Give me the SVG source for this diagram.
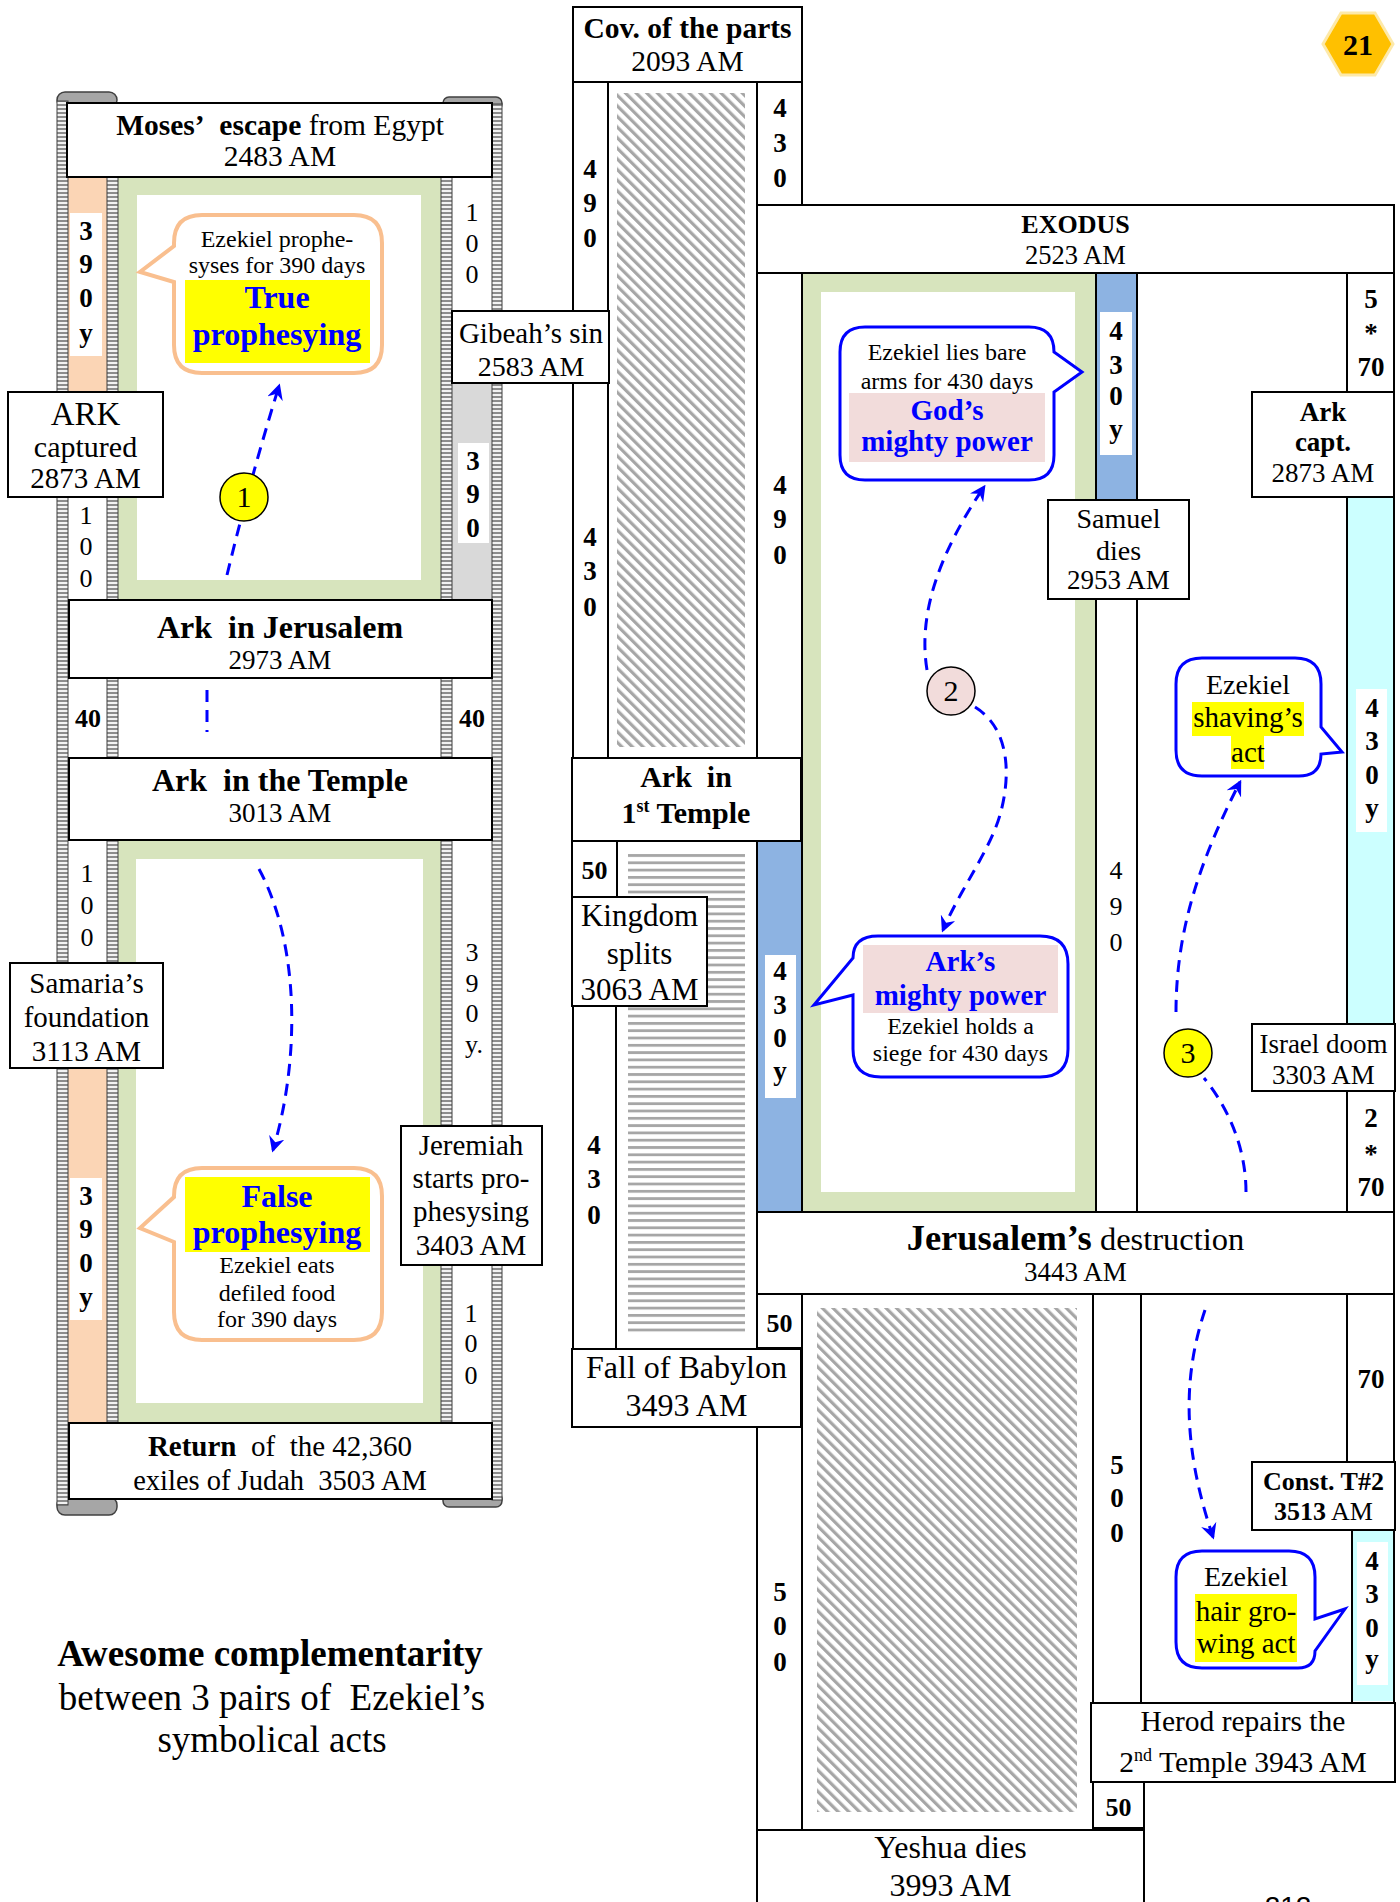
<svg xmlns="http://www.w3.org/2000/svg" width="1400" height="1902" viewBox="0 0 1400 1902">
<defs>
<style>
text{font-family:"Liberation Serif","Times New Roman",serif;text-anchor:middle;fill:#000}
.b{font-weight:bold}
.bl{fill:#0000ff;font-weight:bold}
.f24{font-size:24px}.f26{font-size:26px}.f27{font-size:27px}.f28{font-size:28px}.f29{font-size:29px}.f30{font-size:30px}.f31{font-size:31px}.f32{font-size:32px}.f37{font-size:37px}
.box{fill:#fff;stroke:#000;stroke-width:2}
.ln{stroke:#000;stroke-width:2;fill:none}
.rail{fill:url(#rail);stroke:#404040;stroke-width:1}
.cap{fill:#a6a6a6;stroke:#404040;stroke-width:1.5}
.lbl{fill:#fff}
.pb{fill:#fff;stroke:#f9bf8f;stroke-width:4}
.bb{fill:#fff;stroke:#0000ff;stroke-width:3}
.arr{fill:none;stroke:#0000ff;stroke-width:3;stroke-dasharray:12 8}
.circ{stroke:#000;stroke-width:1.5}
.peach{fill:#fbd5b5}.green{fill:#d7e4bd}.grey{fill:#d9d9d9}.blue{fill:#8db3e2}.cyan{fill:#ccffff}.pink{fill:#f2dcdb}.yel{fill:#ffff00}
</style>
<pattern id="rail" patternUnits="userSpaceOnUse" width="6" height="4"><rect width="6" height="4" fill="#f2f2f2"/><rect width="6" height="2" fill="#8c8c8c"/></pattern>
<pattern id="hatch" patternUnits="userSpaceOnUse" width="7.5" height="7.5" patternTransform="rotate(-45)"><rect width="7.5" height="7.5" fill="#fff"/><rect width="3.2" height="7.5" fill="#a6a6a6"/></pattern>
<pattern id="hstripe" patternUnits="userSpaceOnUse" width="10" height="7.3"><rect width="10" height="7.3" fill="#fff"/><rect width="10" height="2.8" fill="#a6a6a6"/></pattern>
<marker id="ah" viewBox="0 0 12 12" refX="10" refY="6" markerWidth="16" markerHeight="16" markerUnits="userSpaceOnUse" orient="auto"><path d="M0,0 L12,6 L0,12 L4,6 Z" fill="#0000ff"/></marker>
</defs>
<rect width="1400" height="1902" fill="#fff"/>

<g id="backgrounds">
<rect class="peach" x="67" y="177" width="40" height="215"/>
<rect class="lbl" x="70" y="213" width="32" height="143"/>
<rect class="green" x="117" y="177" width="324" height="423"/>
<rect class="lbl" x="137" y="195" width="284" height="385"/>
<rect class="grey" x="452" y="383" width="40" height="217"/>
<rect class="lbl" x="458" y="443" width="31" height="100"/>
<rect class="green" x="117" y="840" width="324" height="583"/>
<rect class="lbl" x="136" y="859" width="287" height="544"/>
<rect class="peach" x="67" y="1068" width="40" height="355"/>
<rect class="lbl" x="70" y="1178" width="32" height="142"/>
<rect x="617" y="93" width="128" height="654" fill="url(#hatch)"/>
<rect x="628" y="852" width="117" height="483" fill="url(#hstripe)"/>
<rect class="blue" x="757" y="841" width="44" height="371"/>
<rect class="lbl" x="765" y="955" width="31" height="143"/>
<rect class="green" x="802" y="273" width="294" height="939"/>
<rect class="lbl" x="821" y="292" width="254" height="900"/>
<rect class="blue" x="1096" y="273" width="40" height="226"/>
<rect class="lbl" x="1100" y="312" width="32" height="143"/>
<rect class="cyan" x="1347" y="497" width="47" height="527"/>
<rect class="lbl" x="1356" y="689" width="31" height="143"/>
<rect x="817" y="1308" width="260" height="504" fill="url(#hatch)"/>
<rect class="cyan" x="1352" y="1530" width="42" height="171"/>
<rect class="lbl" x="1357" y="1542" width="31" height="143"/>
</g>

<g id="rails">
<rect class="cap" x="57" y="92" width="60" height="16" rx="8"/>
<rect class="cap" x="443" y="97" width="59" height="13" rx="6"/>
<rect class="cap" x="57" y="1497" width="60" height="18" rx="8"/>
<rect class="cap" x="443" y="1492" width="59" height="15" rx="6"/>
<rect class="rail" x="57" y="101" width="11" height="1404"/>
<rect class="rail" x="107" y="177" width="11" height="1246"/>
<rect class="rail" x="441" y="177" width="11" height="1246"/>
<rect class="rail" x="492" y="104" width="10" height="1396"/>
</g>

<g id="lines">
<path class="ln" d="M573,82 V1349 M608,82 V758 M757,82 V1830 M802,82 V205 M802,273 V1212 M802,1294 V1830 M616,897 V1349 M1096,273 V1212 M1137,273 V1212 M1347,273 V1212 M1394,205 V1782 M1093,1294 V1830 M1141,1294 V1702 M1347,1294 V1462 M1352,1530 V1702"/>
</g>

<g id="moses"><rect class="box" x="67" y="103" width="425" height="74"/><text font-size="29.5" x="280" y="135"><tspan class="b">Moses’&#160; escape</tspan> from Egypt</text><text font-size="29.5" x="280" y="166">2483 AM</text></g>
<g id="col-390-a"><text class="b f27" x="86" y="240">3</text><text class="b f27" x="86" y="273">9</text><text class="b f27" x="86" y="307">0</text><text class="b f27" x="86" y="342">y</text></g>
<g id="col-100-a"><text class="f26" x="472" y="221">1</text><text class="f26" x="472" y="252">0</text><text class="f26" x="472" y="283">0</text></g>
<g id="gibeah"><rect class="box" x="452" y="311" width="157" height="72"/><text class="f29" x="531" y="343">Gibeah’s sin</text><text class="f28" x="531" y="376">2583 AM</text></g>
<g id="col-390-b"><text class="b f27" x="473" y="470">3</text><text class="b f27" x="473" y="503">9</text><text class="b f27" x="473" y="537">0</text></g>
<g id="ark-captured"><rect class="box" x="8" y="392" width="155" height="105"/><text font-size="33" x="85.5" y="425">ARK</text><text class="f30" x="85.5" y="457">captured</text><text class="f29" x="85.5" y="488">2873 AM</text></g>
<g id="col-100-b"><text class="f26" x="86" y="524">1</text><text class="f26" x="86" y="555">0</text><text class="f26" x="86" y="587">0</text></g>
<g id="ark-jerusalem"><rect class="box" x="69" y="600" width="423" height="78"/><text class="b f32" x="280" y="638">Ark&#160; in Jerusalem</text><text class="f27" x="280" y="669">2973 AM</text></g>
<g id="forty"><text class="b f26" x="88" y="727">40</text><text class="b f26" x="472" y="727">40</text></g>
<g id="ark-temple"><rect class="box" x="69" y="758" width="423" height="82"/><text class="b f32" x="280" y="791">Ark&#160; in the Temple</text><text class="f27" x="280" y="822">3013 AM</text></g>
<g id="col-100-c"><text class="f26" x="87" y="882">1</text><text class="f26" x="87" y="914">0</text><text class="f26" x="87" y="946">0</text></g>
<g id="samaria"><rect class="box" x="10" y="963" width="153" height="105"/><text class="f29" x="86.5" y="993">Samaria’s</text><text class="f29" x="86.5" y="1027">foundation</text><text class="f29" x="86.5" y="1061">3113 AM</text></g>
<g id="col-390y"><text class="f26" x="472" y="961">3</text><text class="f26" x="472" y="992">9</text><text class="f26" x="472" y="1022">0</text><text class="f26" x="474" y="1053">y.</text></g>
<g id="jeremiah"><rect class="box" x="401" y="1126" width="141" height="139"/><text class="f29" x="471" y="1155">Jeremiah</text><text class="f29" x="471" y="1188">starts pro-</text><text class="f29" x="471" y="1221">phesysing</text><text class="f29" x="471" y="1255">3403 AM</text></g>
<g id="col-100-d"><text class="f26" x="471" y="1322">1</text><text class="f26" x="471" y="1352">0</text><text class="f26" x="471" y="1384">0</text></g>
<g id="col-390-c"><text class="b f27" x="86" y="1205">3</text><text class="b f27" x="86" y="1238">9</text><text class="b f27" x="86" y="1272">0</text><text class="b f27" x="86" y="1306">y</text></g>
<g id="return"><rect class="box" x="69" y="1423" width="423" height="76"/><text class="f29" x="280" y="1456"><tspan class="b">Return</tspan>&#160; of&#160; the 42,360</text><text font-size="28.5" x="280" y="1490">exiles of Judah&#160; 3503 AM</text></g>

<g id="cov"><rect class="box" x="573" y="7" width="229" height="75"/><text class="b" font-size="29.5" x="687.5" y="38">Cov. of the parts</text><text font-size="29.5" x="687.5" y="71">2093 AM</text></g>
<g id="col-490-a"><text class="b f27" x="590" y="178">4</text><text class="b f27" x="590" y="212">9</text><text class="b f27" x="590" y="247">0</text></g>
<g id="col-430-a"><text class="b f27" x="780" y="117">4</text><text class="b f27" x="780" y="152">3</text><text class="b f27" x="780" y="187">0</text></g>
<g id="col-430-b"><text class="b f27" x="590" y="546">4</text><text class="b f27" x="590" y="580">3</text><text class="b f27" x="590" y="616">0</text></g>
<g id="col-490-b"><text class="b f27" x="780" y="494">4</text><text class="b f27" x="780" y="528">9</text><text class="b f27" x="780" y="564">0</text></g>
<g id="ark-first-temple"><rect class="box" x="572" y="758" width="229" height="83"/><text class="b f30" x="686" y="787">Ark&#160; in</text><text class="b f30" x="686" y="823">1<tspan dy="-11" font-size="18">st</tspan><tspan dy="11"> Temple</tspan></text></g>
<g id="fifty-a"><rect class="box" x="572" y="841" width="45" height="56"/><text class="b f26" x="594.5" y="879">50</text></g>
<g id="kingdom"><rect class="box" x="572" y="897" width="135" height="109"/><text class="f31" x="639.5" y="926">Kingdom</text><text class="f31" x="639.5" y="964">splits</text><text class="f31" x="639.5" y="1000">3063 AM</text></g>
<g id="col-430-c"><text class="b f27" x="594" y="1154">4</text><text class="b f27" x="594" y="1188">3</text><text class="b f27" x="594" y="1224">0</text></g>
<g id="col-430y-a"><text class="b f27" x="780" y="980">4</text><text class="b f27" x="780" y="1014">3</text><text class="b f27" x="780" y="1047">0</text><text class="b f27" x="780" y="1080">y</text></g>
<g id="babylon"><rect class="box" x="572" y="1349" width="229" height="78"/><text class="f32" x="686.5" y="1378">Fall of Babylon</text><text class="f32" x="686.5" y="1416">3493 AM</text></g>
<g id="col-500-a"><text class="b f27" x="780" y="1601">5</text><text class="b f27" x="780" y="1635">0</text><text class="b f27" x="780" y="1671">0</text></g>
<g id="fifty-b"><rect class="box" x="757" y="1294" width="45" height="54"/><text class="b f26" x="779.5" y="1332">50</text></g>

<g id="exodus"><rect class="box" x="757" y="205" width="637" height="68"/><text class="b f26" x="1075.5" y="233">EXODUS</text><text font-size="26.5" x="1075.5" y="264">2523 AM</text></g>
<g id="col-430y-b"><text class="b f27" x="1116" y="340">4</text><text class="b f27" x="1116" y="374">3</text><text class="b f27" x="1116" y="405">0</text><text class="b f27" x="1116" y="438">y</text></g>
<g id="col-490-c"><text class="f26" x="1116" y="879">4</text><text class="f26" x="1116" y="915">9</text><text class="f26" x="1116" y="951">0</text></g>
<g id="samuel"><rect class="box" x="1048" y="500" width="141" height="99"/><text class="f28" x="1118.5" y="528">Samuel</text><text class="f28" x="1118.5" y="560">dies</text><text class="f27" x="1118.5" y="589">2953 AM</text></g>
<g id="col-5x70"><text class="b f27" x="1371" y="308">5</text><text class="b f27" x="1371" y="342">*</text><text class="b f27" x="1371" y="376">70</text></g>
<g id="ark-capt"><rect class="box" x="1252" y="392" width="142" height="105"/><text class="b f27" x="1323" y="421">Ark</text><text class="b f27" x="1323" y="451">capt.</text><text class="f27" x="1323" y="482">2873 AM</text></g>
<g id="col-430y-c"><text class="b f27" x="1372" y="717">4</text><text class="b f27" x="1372" y="750">3</text><text class="b f27" x="1372" y="784">0</text><text class="b f27" x="1372" y="817">y</text></g>
<g id="israel-doom"><rect class="box" x="1252" y="1024" width="143" height="67"/><text class="f27" x="1323.5" y="1053">Israel doom</text><text class="f27" x="1323.5" y="1084">3303 AM</text></g>
<g id="col-2x70"><text class="b f27" x="1371" y="1127">2</text><text class="b f27" x="1371" y="1163">*</text><text class="b f27" x="1371" y="1196">70</text></g>
<g id="jerusalem"><rect class="box" x="757" y="1212" width="637" height="82"/><text x="1075.5" y="1250"><tspan class="b" font-size="36.5">Jerusalem’s</tspan><tspan font-size="32.5"> destruction</tspan></text><text class="f27" x="1075.5" y="1281">3443 AM</text></g>
<g id="col-500-b"><text class="b f27" x="1117" y="1474">5</text><text class="b f27" x="1117" y="1507">0</text><text class="b f27" x="1117" y="1542">0</text></g>
<g id="col-70"><text class="b f27" x="1371" y="1388">70</text></g>
<g id="const"><rect class="box" x="1252" y="1462" width="143" height="68"/><text class="b f26" x="1323.5" y="1490">Const. T#2</text><text class="f26" x="1323.5" y="1520"><tspan class="b">3513</tspan> AM</text></g>
<g id="col-430y-d"><text class="b f27" x="1372" y="1570">4</text><text class="b f27" x="1372" y="1603">3</text><text class="b f27" x="1372" y="1637">0</text><text class="b f27" x="1372" y="1668">y</text></g>
<g id="herod"><rect class="box" x="1091" y="1703" width="304" height="79"/><text font-size="29.5" x="1243" y="1731">Herod repairs the</text><text font-size="29.5" x="1243" y="1772">2<tspan dy="-11" font-size="18">nd</tspan><tspan dy="11"> Temple 3943 AM</tspan></text></g>
<g id="fifty-c"><rect class="box" x="1093" y="1782" width="51" height="46"/><text class="b f26" x="1118.5" y="1816">50</text></g>
<g id="yeshua"><rect class="box" x="757" y="1830" width="387" height="90"/><text class="f32" x="950.5" y="1858">Yeshua dies</text><text class="f32" x="950.5" y="1896">3993 AM</text></g>

<g id="badge"><polygon points="1323,44 1341,13 1375,13 1393,44 1375,75 1341,75" fill="#ffc000" stroke="#fde9a9" stroke-width="3"/><text class="b f30" x="1358" y="55">21</text></g>

<g id="bubble-true"><path class="pb" d="M202,215 H354 Q382,215 382,243 V345 Q382,373 354,373 H202 Q174,373 174,345 V282 L140,272 L174,246 V243 Q174,215 202,215 Z"/><rect class="yel" x="185" y="280" width="185" height="83"/><text class="f24" x="277" y="247">Ezekiel prophe-</text><text class="f24" x="277" y="273">syses for 390 days</text><text class="bl f32" x="277" y="308">True</text><text class="bl f32" x="277" y="345">prophesying</text></g>
<g id="bubble-false"><path class="pb" d="M202,1168 H354 Q382,1168 382,1196 V1312 Q382,1340 354,1340 H202 Q174,1340 174,1312 V1242 L140,1228 L174,1197 V1196 Q174,1168 202,1168 Z"/><rect class="yel" x="185" y="1177" width="185" height="75"/><text class="bl f32" x="277" y="1207">False</text><text class="bl f32" x="277" y="1243">prophesying</text><text class="f24" x="277" y="1273">Ezekiel eats</text><text class="f24" x="277" y="1301">defiled food</text><text class="f24" x="277" y="1327">for 390 days</text></g>
<g id="bubble-gods"><path class="bb" d="M865,327 H1029 Q1054,327 1054,352 L1082,372 L1054,392 V455 Q1054,480 1029,480 H865 Q840,480 840,455 V352 Q840,327 865,327 Z"/><rect class="pink" x="849" y="393" width="196" height="69"/><text class="f24" x="947" y="360">Ezekiel lies bare</text><text class="f24" x="947" y="389">arms for 430 days</text><text class="bl f29" x="947" y="420">God’s</text><text class="bl f29" x="947" y="451">mighty power</text></g>
<g id="bubble-arks"><path class="bb" d="M878,936 H1040 Q1068,936 1068,964 V1049 Q1068,1077 1040,1077 H881 Q853,1077 853,1049 V995 L814,1005 L853,958 Q853,936 878,936 Z"/><rect class="pink" x="863" y="945" width="195" height="68"/><text class="bl f29" x="960.5" y="971">Ark’s</text><text class="bl f29" x="960.5" y="1005">mighty power</text><text class="f24" x="960.5" y="1034">Ezekiel holds a</text><text class="f24" x="960.5" y="1061">siege for 430 days</text></g>
<g id="bubble-shaving"><path class="bb" d="M1202,658 H1295 Q1321,658 1321,684 V727 L1342,752 L1321,754 Q1321,776 1299,776 H1202 Q1176,776 1176,750 V684 Q1176,658 1202,658 Z"/><rect class="yel" x="1192" y="702" width="112" height="34"/><rect class="yel" x="1231" y="736" width="33" height="33"/><text class="f28" x="1248" y="694">Ezekiel</text><text class="f29" x="1248" y="727">shaving’s</text><text class="f29" x="1248" y="762">act</text></g>
<g id="bubble-hair"><path class="bb" d="M1202,1551 H1289 Q1315,1551 1315,1577 V1619 L1345,1609 L1315,1651 Q1315,1668 1298,1668 H1202 Q1176,1668 1176,1642 V1577 Q1176,1551 1202,1551 Z"/><rect class="yel" x="1195" y="1594" width="102" height="68"/><text class="f28" x="1246" y="1586">Ezekiel</text><text class="f29" x="1246" y="1621">hair gro-</text><text class="f29" x="1246" y="1653">wing act</text></g>

<g id="connectors">
<path class="arr" d="M227,575 Q250,480 279,386" marker-end="url(#ah)"/>
<path class="arr" d="M207,690 V732"/>
<path class="arr" d="M259,869 C300,945 300,1060 273,1150" marker-end="url(#ah)"/>
<path class="arr" d="M927,670 C918,615 938,555 984,487" marker-end="url(#ah)"/>
<path class="arr" d="M975,707 C1012,730 1010,780 1000,815 C990,850 960,890 943,930" marker-end="url(#ah)"/>
<path class="arr" d="M1246,1192 C1246,1150 1230,1110 1204,1078"/>
<path class="arr" d="M1176,1012 C1176,930 1200,860 1240,782" marker-end="url(#ah)"/>
<path class="arr" d="M1205,1310 C1185,1370 1180,1440 1213,1537" marker-end="url(#ah)"/>
</g>

<g id="circle-1"><circle class="circ" cx="244" cy="497" r="24" fill="#ffff00"/><text class="f30" x="244" y="507">1</text></g>
<g id="circle-2"><circle class="circ" cx="951" cy="691" r="24" fill="#f2dcdb"/><text class="f30" x="951" y="701">2</text></g>
<g id="circle-3"><circle class="circ" cx="1188" cy="1053" r="24" fill="#ffff00"/><text class="f30" x="1188" y="1063">3</text></g>

<g id="title"><text class="b f37" x="270" y="1666">Awesome complementarity</text><text class="f37" x="272" y="1710">between 3 pairs of&#160; Ezekiel’s</text><text class="f37" x="272" y="1752">symbolical acts</text></g>
<text x="1288" y="1916" style="font-family:'Liberation Sans',Arial,sans-serif;font-size:28px">212</text>
</svg>
